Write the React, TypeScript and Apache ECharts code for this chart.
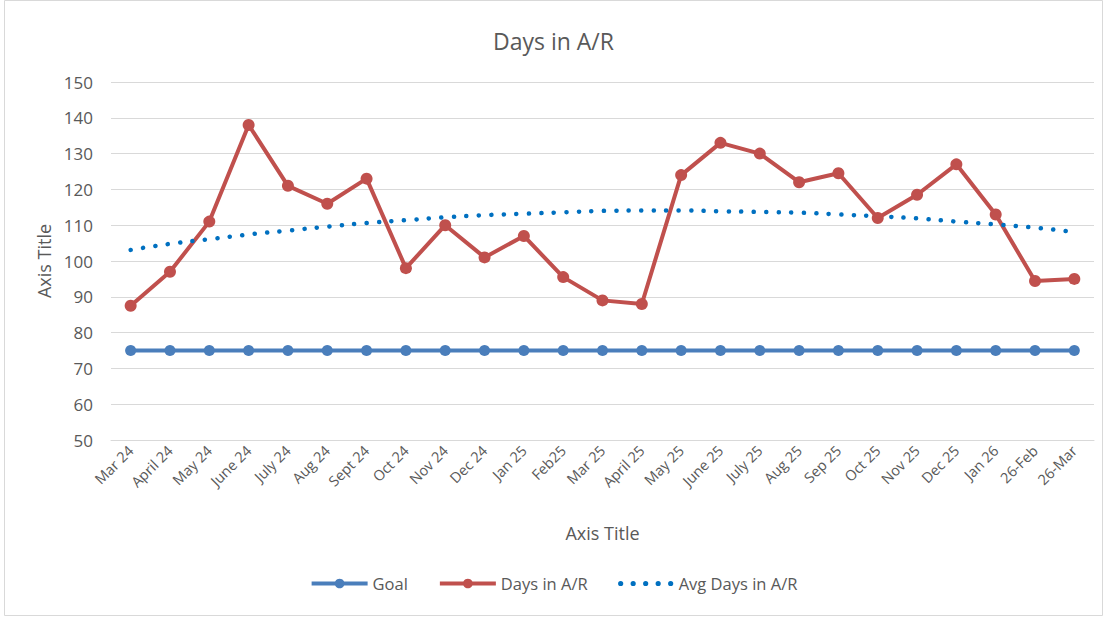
import React, { useEffect, useRef } from "react";
import * as echarts from "echarts";

const categories = [
  "Mar 24", "April 24", "May 24", "June 24", "July 24", "Aug 24", "Sept 24", "Oct 24",
  "Nov 24", "Dec 24", "Jan 25", "Feb25", "Mar 25", "April 25", "May 25", "June 25",
  "July 25", "Aug 25", "Sep 25", "Oct 25", "Nov 25", "Dec 25", "Jan 26", "26-Feb", "26-Mar",
];

const goal = [75, 75, 75, 75, 75, 75, 75, 75, 75, 75, 75, 75, 75, 75, 75, 75, 75, 75, 75, 75, 75, 75, 75, 75, 75];

const daysInAR = [
  87.5, 97, 111, 138, 121, 116, 123, 98, 110, 101, 107, 95.5, 89, 88, 124, 133,
  130, 122, 124.5, 112, 118.5, 127, 113, 94.4, 95,
];

const avgDaysInAR = [
  103.1, 104.8, 106.1, 107.4, 108.5, 109.6, 110.6, 111.4, 112.2, 112.8, 113.2, 113.6,
  114.0, 114.1, 114.1, 113.9, 113.7, 113.5, 113.0, 112.5, 111.9, 111.0, 110.2, 109.3, 108.1,
];

const FONT = "'Open Sans', sans-serif";
const TXT = "#595959";

function dotsIcon(): string {
  const r = 2.6;
  const xs = [3, 15.5, 28, 40.5, 53];
  let d = "M0 0 L0 0 M56 12 L56 12 ";
  for (const x of xs) {
    d += `M${x - r} 6 A${r} ${r} 0 1 0 ${x + r} 6 A${r} ${r} 0 1 0 ${x - r} 6 Z `;
  }
  return "path://" + d;
}

export default function App() {
  const ref = useRef<HTMLDivElement>(null);

  useEffect(() => {
    document.body.style.margin = "0";
    if (!ref.current) return;
    const chart = echarts.init(ref.current, undefined, { renderer: "svg" });
    chart.setOption({
      animation: false,
      backgroundColor: "#ffffff",
      title: {
        text: "Days in A/R",
        left: "center",
        top: 24,
        textStyle: { fontFamily: FONT, fontSize: 23, fontWeight: "normal", color: TXT },
      },
      grid: { left: 111, right: 13, top: 82, height: 358 },
      legend: {
        bottom: 20,
        left: "center",
        itemWidth: 56,
        itemHeight: 12,
        itemGap: 30,
        textStyle: { fontFamily: FONT, fontSize: 16.5, color: TXT },
        data: [
          { name: "Goal", lineStyle: { width: 4 } },
          { name: "Days in A/R", lineStyle: { width: 4 } },
          { name: "Avg Days in A/R", icon: dotsIcon(), itemStyle: { color: "#0070c0" } },
        ],
      },
      xAxis: {
        type: "category",
        data: categories,
        boundaryGap: true,
        name: "Axis Title",
        nameLocation: "middle",
        nameGap: 84,
        nameTextStyle: { fontFamily: FONT, fontSize: 18, color: TXT },
        axisLine: { lineStyle: { color: "#d9d9d9" } },
        axisTick: { show: false },
        axisLabel: {
          rotate: 45,
          interval: 0,
          margin: 8,
          fontFamily: FONT,
          fontSize: 14.5,
          color: TXT,
        },
      },
      yAxis: {
        type: "value",
        min: 50,
        max: 150,
        interval: 10,
        name: "Axis Title",
        nameLocation: "middle",
        nameGap: 56,
        nameTextStyle: { fontFamily: FONT, fontSize: 18, color: TXT },
        axisLine: { show: false },
        axisTick: { show: false },
        axisLabel: { fontFamily: FONT, fontSize: 17, color: TXT, margin: 18 },
        splitLine: { lineStyle: { color: "#d9d9d9", width: 1 } },
      },
      series: [
        {
          name: "Goal",
          type: "line",
          data: goal,
          symbol: "circle",
          symbolSize: 11,
          itemStyle: { color: "#4a7ebb" },
          lineStyle: { color: "#4a7ebb", width: 4 },
        },
        {
          name: "Days in A/R",
          type: "line",
          data: daysInAR,
          symbol: "circle",
          symbolSize: 12,
          itemStyle: { color: "#c0504d" },
          lineStyle: { color: "#c0504d", width: 4 },
        },
        {
          name: "Avg Days in A/R",
          type: "line",
          data: avgDaysInAR,
          symbol: "none",
          smooth: true,
          itemStyle: { color: "#0070c0" },
          lineStyle: { color: "#0070c0", width: 4.5, type: [0.1, 12.4], cap: "round" },
        },
      ],
      graphic: [
        {
          type: "rect",
          shape: { x: 4.5, y: 0.5, width: 1098, height: 615 },
          style: { fill: "none", stroke: "#d9d9d9", lineWidth: 1 },
          silent: true,
        },
      ],
    });
    return () => chart.dispose();
  }, []);

  return <div ref={ref} style={{ width: 1107, height: 617 }} />;
}
